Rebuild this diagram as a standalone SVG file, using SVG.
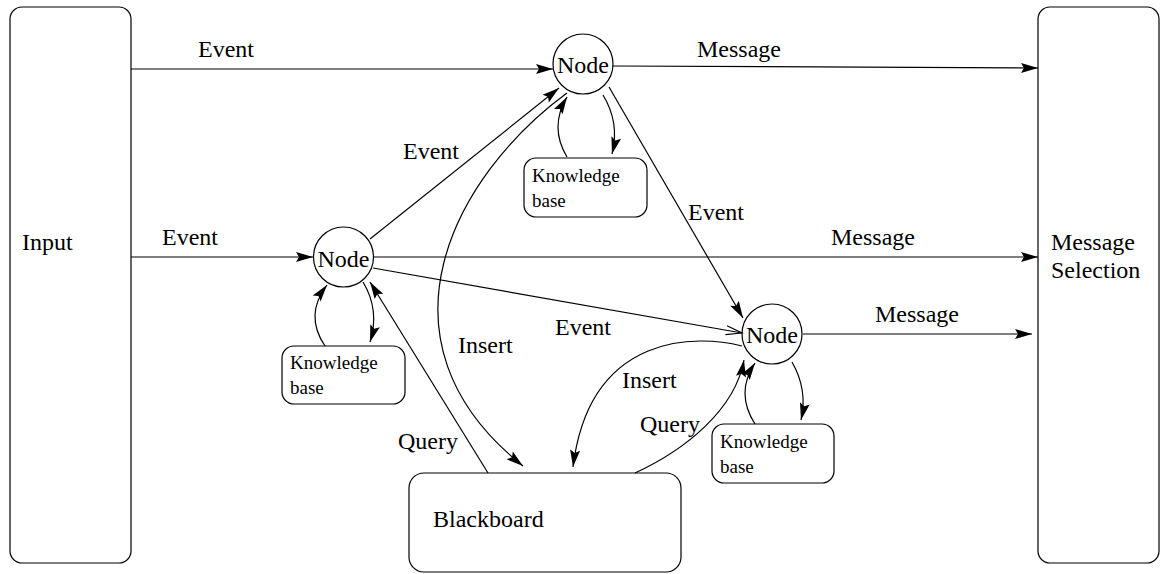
<svg xmlns="http://www.w3.org/2000/svg" width="1160" height="574" viewBox="0 0 1160 574">
<style>
.box{fill:#fff;stroke:#000;stroke-width:1.2}
.t{font-family:"Liberation Serif","Times New Roman",serif;font-size:24px;fill:#000}
.s{font-family:"Liberation Serif","Times New Roman",serif;font-size:19px;fill:#000}
.c{fill:none;stroke:#000;stroke-width:1.2}
</style>
<defs>
<marker id="ah" markerUnits="userSpaceOnUse" markerWidth="22" markerHeight="14" viewBox="-19 -7 20 14" refX="0" refY="0" orient="auto">
<path d="M-17,-5 L0,0 L-17,5 L-14,0 z" fill="#000"/>
</marker>
<marker id="oh" markerUnits="userSpaceOnUse" markerWidth="22" markerHeight="14" viewBox="-19 -7 20 14" refX="0" refY="0" orient="auto">
<path d="M-16,-4.5 L0,0 L-16,4.5" fill="none" stroke="#000" stroke-width="1.1"/>
</marker>
</defs>
<rect width="1160" height="574" fill="#fff"/>
<g id="input"><rect class="box" x="10" y="7" width="121" height="556" rx="12"/><text class="t" x="22" y="250">Input</text></g>
<g id="msgsel"><rect class="box" x="1038" y="7" width="121" height="556" rx="12"/><text class="t" x="1051" y="250">Message</text><text class="t" x="1051" y="278">Selection</text></g>
<g id="blackboard"><rect class="box" x="409" y="473" width="272" height="99" rx="15"/><text class="t" x="433" y="527">Blackboard</text></g>
<g id="node1"><circle class="box" cx="583" cy="64" r="30"/><text class="t" x="583" y="73" text-anchor="middle">Node</text></g>
<g id="node2"><circle class="box" cx="343.5" cy="257" r="30"/><text class="t" x="343.5" y="267" text-anchor="middle">Node</text></g>
<g id="node3"><circle class="box" cx="772" cy="334" r="30"/><text class="t" x="772" y="343" text-anchor="middle">Node</text></g>
<g id="kb1"><rect class="box" x="524" y="158" width="123" height="59" rx="12"/><text class="s" x="532" y="182">Knowledge</text><text class="s" x="532" y="207">base</text></g>
<g id="kb2"><rect class="box" x="282" y="346" width="123" height="58" rx="12"/><text class="s" x="290" y="369">Knowledge</text><text class="s" x="290" y="394">base</text></g>
<g id="kb3"><rect class="box" x="712" y="424" width="122" height="59" rx="12"/><text class="s" x="720" y="448">Knowledge</text><text class="s" x="720" y="473">base</text></g>
<g id="connectors">
<path class="c" d="M131,69 L553,69" marker-end="url(#ah)"/>
<path class="c" d="M613,66 L1038,68" marker-end="url(#ah)"/>
<path class="c" d="M131,257 L313,257" marker-end="url(#ah)"/>
<path class="c" d="M374,257 L1038,257" marker-end="url(#ah)"/>
<path class="c" d="M370,239 L559,88" marker-end="url(#ah)"/>
<path class="c" d="M567,93 C455,175 365,340 523,466" marker-end="url(#ah)"/>
<path class="c" d="M567,157 Q549,127 567,97" marker-end="url(#ah)"/>
<path class="c" d="M603,95 Q620,123 612,154" marker-end="url(#ah)"/>
<path class="c" d="M325,346 Q304,315 327,285" marker-end="url(#ah)"/>
<path class="c" d="M363,282 Q380,310 370,342" marker-end="url(#ah)"/>
<path class="c" d="M488,473 L370,282" marker-end="url(#ah)"/>
<path class="c" d="M373,268 L742,333" marker-end="url(#oh)"/>
<path class="c" d="M609,87 L743,318" marker-end="url(#ah)"/>
<path class="c" d="M803,334 L1032,334" marker-end="url(#ah)"/>
<path class="c" d="M742,346 C700,335 590,330 573,467" marker-end="url(#ah)"/>
<path class="c" d="M635,473 C685,450 735,410 744,360" marker-end="url(#ah)"/>
<path class="c" d="M755,424 Q735,393 755,363" marker-end="url(#ah)"/>
<path class="c" d="M792,362 Q808,390 801,420" marker-end="url(#ah)"/>
</g>
<g id="labels">
<text class="t" x="198" y="57">Event</text>
<text class="t" x="697" y="57">Message</text>
<text class="t" x="162" y="245">Event</text>
<text class="t" x="403" y="159">Event</text>
<text class="t" x="831" y="245">Message</text>
<text class="t" x="688" y="220">Event</text>
<text class="t" x="555" y="335">Event</text>
<text class="t" x="875" y="322">Message</text>
<text class="t" x="458" y="353">Insert</text>
<text class="t" x="398" y="449">Query</text>
<text class="t" x="622" y="388">Insert</text>
<text class="t" x="640" y="432">Query</text>
</g>
</svg>
